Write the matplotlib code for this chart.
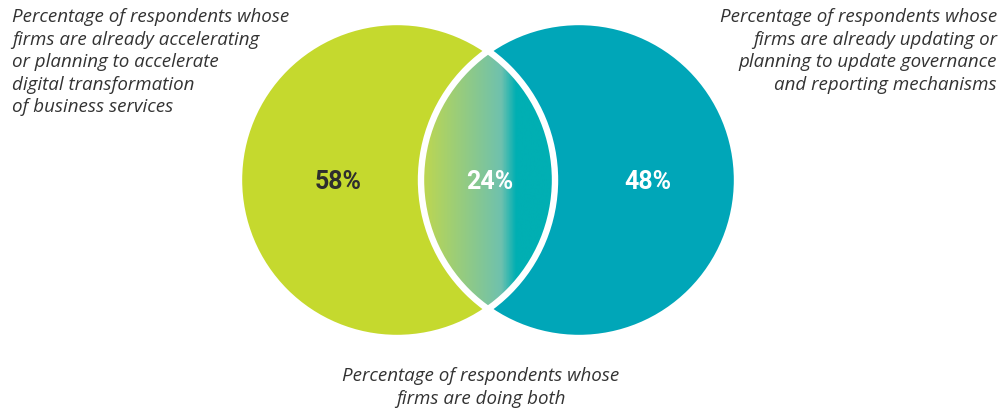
import numpy as np
import matplotlib
matplotlib.use('Agg')
import matplotlib.pyplot as plt
from matplotlib.patches import Circle, Polygon
from matplotlib.colors import LinearSegmentedColormap

# ── data ──────────────────────────────────────────────
values = ['58%', '24%', '48%']
label_left = ("Percentage of respondents whose\nfirms are already accelerating\n"
              "or planning to accelerate\ndigital transformation\nof business services")
label_right = ("Percentage of respondents whose\nfirms are already updating or\n"
               "planning to update governance\nand reporting mechanisms")
label_both = "Percentage of respondents whose\nfirms are doing both"

GREEN = '#C5D92E'
TEAL = '#00A6B8'

# geometry in pixel units
R = 158
C_LEFT = (397, 181)
C_RIGHT = (579, 181)

fig = plt.figure(figsize=(10.06, 4.10), dpi=100)
ax = fig.add_axes([0, 0, 1, 1])
ax.set_xlim(0, 1006)
ax.set_ylim(410, 0)
ax.set_aspect('equal')
ax.axis('off')

ax.add_patch(Circle(C_LEFT, R, facecolor=GREEN, edgecolor='none', zorder=1))
ax.add_patch(Circle(C_RIGHT, R, facecolor=TEAL, edgecolor='none', zorder=2))

# lens (intersection) polygon
d = C_RIGHT[0] - C_LEFT[0]
a = np.arccos((d / 2) / R)
t1 = np.linspace(np.pi - a, np.pi + a, 100)          # right circle, left arc
t2 = np.linspace(-a, a, 100)                          # left circle, right arc
xs = np.concatenate([C_RIGHT[0] + R * np.cos(t1), C_LEFT[0] + R * np.cos(t2)])
ys = np.concatenate([C_RIGHT[1] + R * np.sin(t1), C_LEFT[1] + R * np.sin(t2)])
lens = Polygon(np.column_stack([xs, ys]), closed=True, facecolor='none',
               edgecolor='none', zorder=3)
ax.add_patch(lens)

x0, x1 = C_RIGHT[0] - R, C_LEFT[0] + R
cmap = LinearSegmentedColormap.from_list(
    'lens', [(0.0, '#BFD74E'), (0.6, '#6FC1AE'), (0.71, '#00AFB3'), (1.0, '#00AFB3')])
grad = np.linspace(0, 1, 300).reshape(1, -1)
im = ax.imshow(grad, cmap=cmap, aspect='auto', extent=(x0, x1, C_LEFT[1] + R, C_LEFT[1] - R),
               zorder=3, interpolation='bilinear')
im.set_clip_path(lens)

# white outlines
for c in (C_LEFT, C_RIGHT):
    ax.add_patch(Circle(c, R, facecolor='none', edgecolor='white', lw=4.6, zorder=4))

# values
num_font = ['Roboto', 'DejaVu Sans']
ax.text(338, 182, values[0], ha='center', va='center', fontsize=18, fontweight='bold',
        color='#2E2E2E', family=num_font, zorder=5)
ax.text(490, 182, values[1], ha='center', va='center', fontsize=18, fontweight='bold',
        color='white', family=num_font, zorder=5)
ax.text(648, 182, values[2], ha='center', va='center', fontsize=18, fontweight='bold',
        color='white', family=num_font, zorder=5)

lab = dict(fontsize=13.5, style='italic', color='#333333', family=['Open Sans', 'DejaVu Sans'],
           linespacing=1.33, zorder=5)
ax.text(12, 8, label_left, ha='left', va='top', multialignment='left', **lab)
ax.text(997, 8, label_right, ha='right', va='top', multialignment='right', **lab)
ax.text(481, 367, label_both, ha='center', va='top', multialignment='center', **lab)

fig.savefig('out.png', dpi=100)
